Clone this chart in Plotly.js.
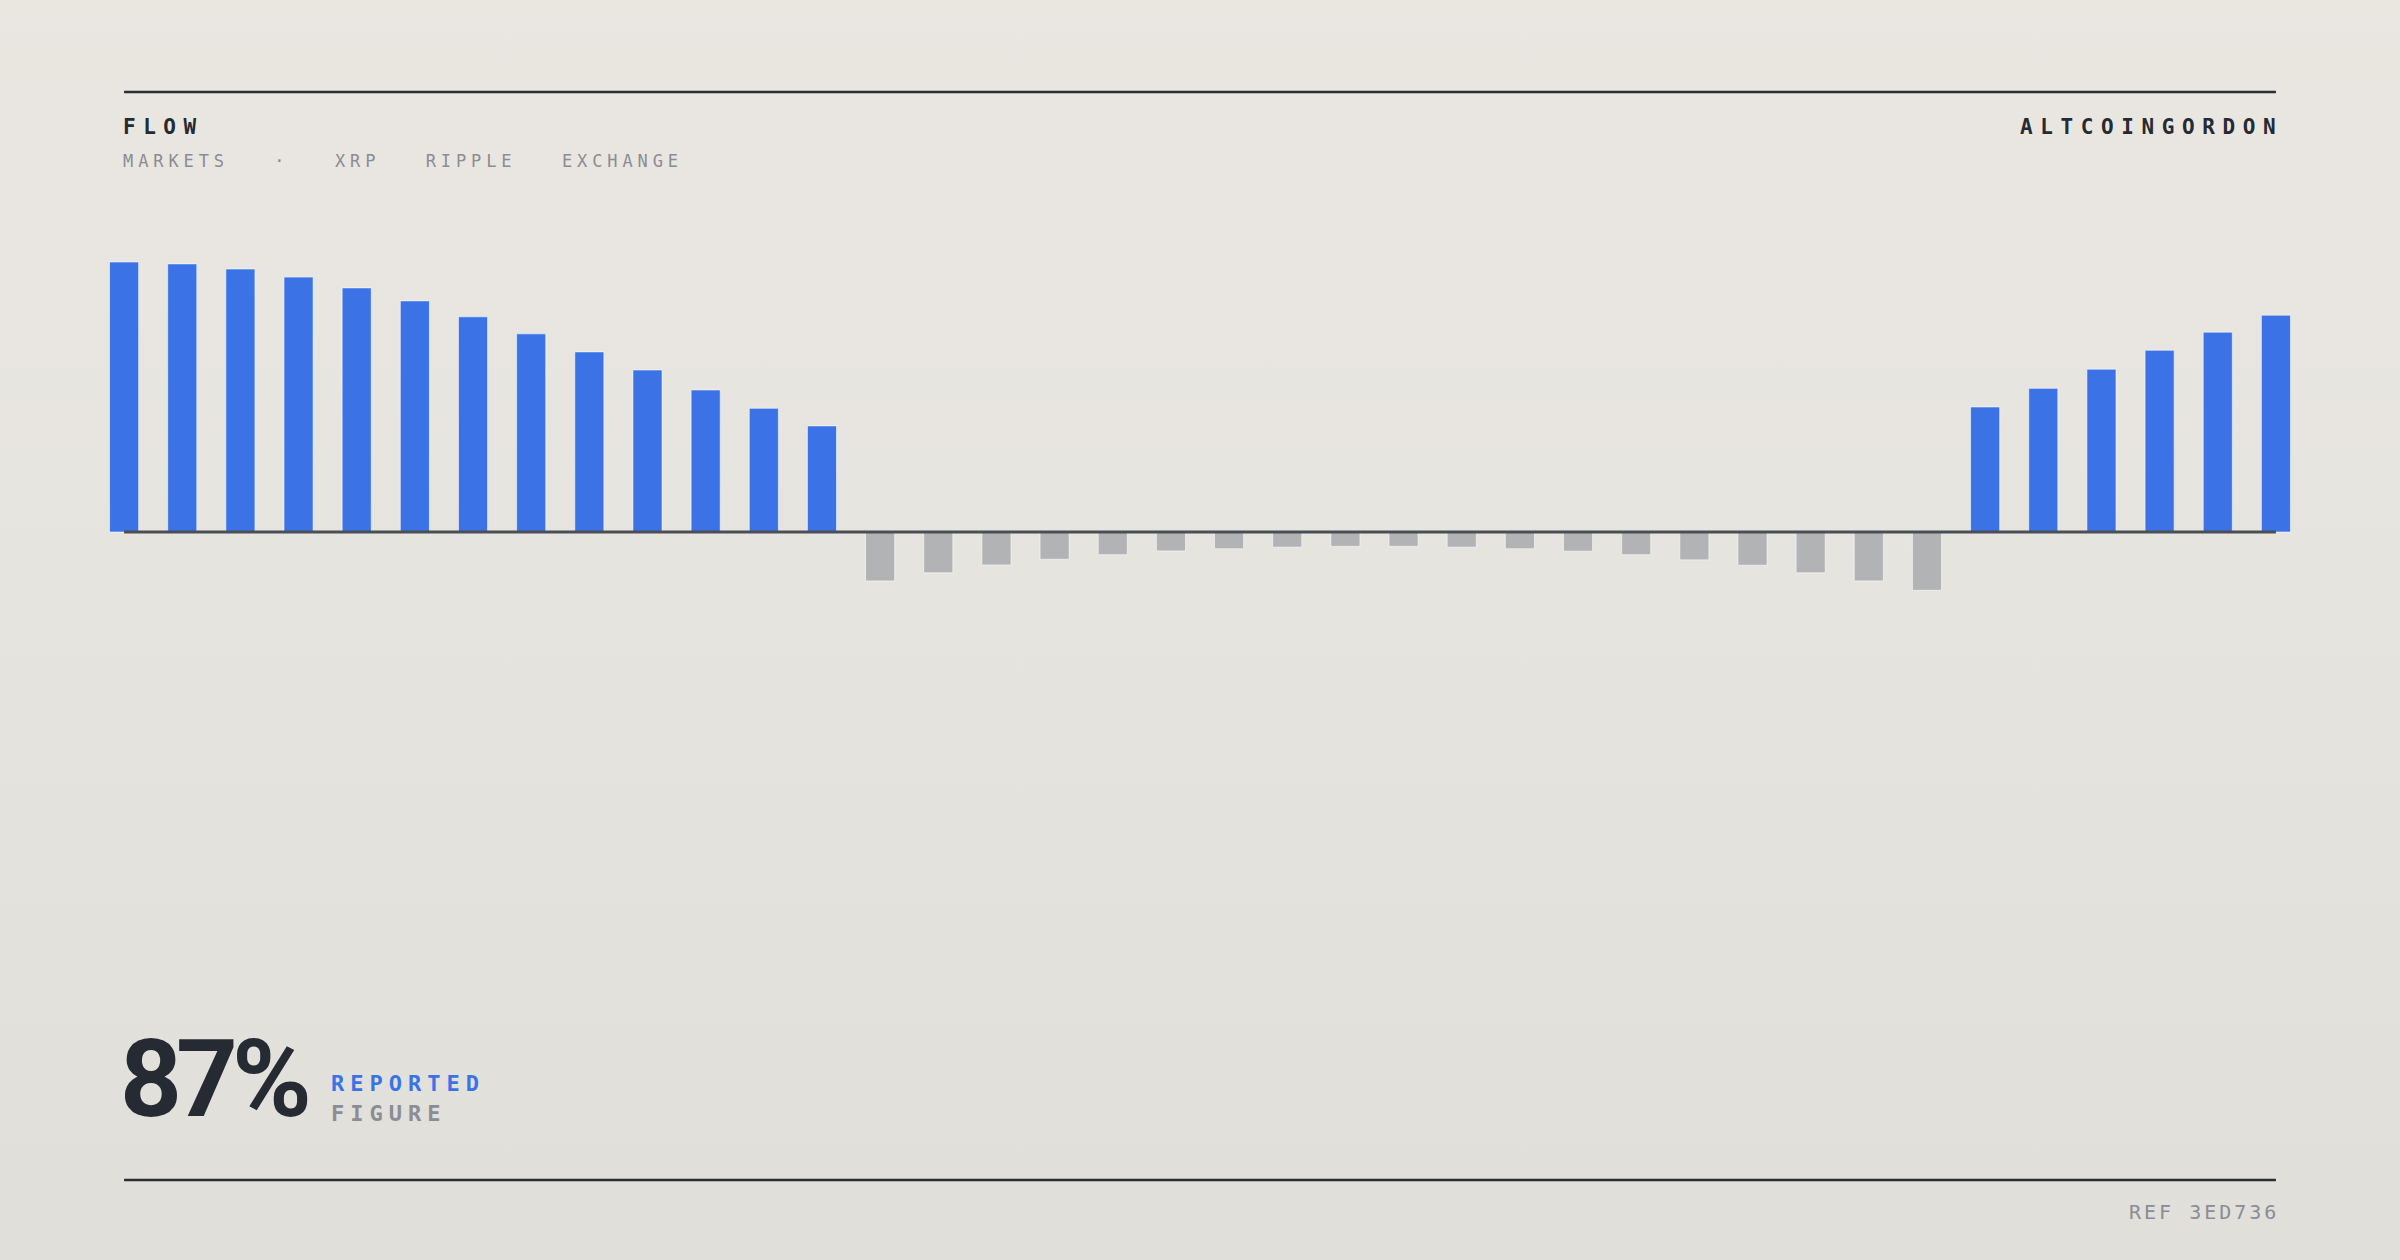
<!DOCTYPE html>
<html>
<head>
<meta charset="utf-8">
<script src="https://cdn.plot.ly/plotly-3.0.1.min.js"></script>
<style>
  html, body { margin: 0; padding: 0; }
  body {
    width: 2400px; height: 1260px; overflow: hidden;
    background: linear-gradient(180deg, #eae7e1 0%, #e6e4df 45%, #e0dfda 100%);
  }
  #chart { width: 2400px; height: 1260px; }
</style>
</head>
<body>
<div id="chart"></div>
<script>
// ---- data ----
const periods = [1,2,3,4,5,6,7,8,9,10,11,12,13,14,15,16,17,18,19,20,21,22,23,24,25,26,27,28,29,30,31,32,33,34,35,36,37,38];
const flowValues = [
  100, 99.3, 97.4, 94.4, 90.4, 85.6, 79.7, 73.4, 66.7, 60.0, 52.6, 45.8, 39.3,
  -18.1, -15.1, -12.2, -10.1, -8.4, -7.0, -6.2, -5.6, -5.3, -5.3, -5.6, -6.2, -7.1, -8.4, -10.3, -12.3, -15.1, -18.1, -21.6,
  46.3, 53.2, 60.3, 67.3, 74.0, 80.3
];
const headerTitle = "FLOW";
const headerTags = ["MARKETS", "·", "XRP", "RIPPLE", "EXCHANGE"];
const brandLabel = "ALTCOINGORDON";
const figureValue = "87%";
const figureLabels = ["REPORTED", "FIGURE"];
const refLabel = "REF 3ED736";

// ---- styling ----
const BLUE = "#3b73e6";
const GRAY_BAR = "#b2b3b5";
const INK = "#262a33";
const MUTED = "#8a8d94";
const MONO = "DejaVu Sans Mono, Liberation Mono, monospace";

const W = 2400, H = 1260;
const M = { l: 95, r: 95, t: 230, b: 610 };
const plotW = W - M.l - M.r, plotH = H - M.t - M.b;
const px2x = p => (p - M.l) / plotW;
const px2y = p => (H - M.b - p) / plotH;
const spaced = (t, ls) => `<span style="letter-spacing:${ls}px">${t}</span>`;

const barColors = flowValues.map(v => v >= 0 ? BLUE : GRAY_BAR);

const trace = {
  type: "bar",
  x: periods,
  y: flowValues,
  marker: { color: barColors, line: { color: "rgba(255,255,255,0.55)", width: 1 } },
  hoverinfo: "skip"
};

const sep = "\u00A0\u00A0\u00A0";
const tagText = headerTags.join(sep);

const annotations = [
  { text: spaced(headerTitle, 7.5), x: px2x(122), y: px2y(127), xanchor: "left", yanchor: "middle",
    font: { family: MONO, size: 21, color: INK, weight: 700 } },
  { text: spaced(tagText, 4.9), x: px2x(122), y: px2y(161), xanchor: "left", yanchor: "middle",
    font: { family: MONO, size: 17, color: MUTED } },
  { text: spaced(brandLabel, 7.6), x: px2x(2284), y: px2y(127), xanchor: "right", yanchor: "middle",
    font: { family: MONO, size: 21, color: INK, weight: 700 } },
  { text: spaced(figureValue, -6), x: px2x(119), y: px2y(1079), xanchor: "left", yanchor: "middle",
    font: { family: "Roboto", size: 108, color: INK, weight: 700 } },
  { text: spaced(figureLabels[0], 6), x: px2x(330), y: px2y(1083), xanchor: "left", yanchor: "middle",
    font: { family: MONO, size: 22, color: BLUE, weight: 700 } },
  { text: spaced(figureLabels[1], 6), x: px2x(330), y: px2y(1113), xanchor: "left", yanchor: "middle",
    font: { family: MONO, size: 22, color: MUTED, weight: 700 } },
  { text: spaced(refLabel, 3), x: px2x(2280), y: px2y(1212), xanchor: "right", yanchor: "middle",
    font: { family: MONO, size: 20, color: MUTED } }
].map(a => Object.assign({ xref: "paper", yref: "paper", showarrow: false, borderpad: 0 }, a));

const shapes = [
  { type: "line", xref: "x", yref: "paper", x0: 1, x1: 38, y0: px2y(92), y1: px2y(92),
    line: { color: "#2a2e36", width: 2.5 } },
  { type: "line", xref: "x", yref: "paper", x0: 1, x1: 38, y0: px2y(1180), y1: px2y(1180),
    line: { color: "#2a2e36", width: 2.5 } },
  { type: "line", xref: "x", yref: "y", x0: 1, x1: 38, y0: 0, y1: 0, layer: "above",
    line: { color: "#4b4e54", width: 3 } }
];

const layout = {
  width: W, height: H,
  margin: { l: M.l, r: M.r, t: M.t, b: M.b, pad: 0 },
  paper_bgcolor: "rgba(0,0,0,0)",
  plot_bgcolor: "rgba(0,0,0,0)",
  showlegend: false,
  bargap: 0.5,
  xaxis: { range: [0.5, 38.5], showgrid: false, zeroline: false, showticklabels: false, ticks: "", showline: false, fixedrange: true },
  yaxis: { range: [-43.70, 111.85], showgrid: false, zeroline: false, showticklabels: false, ticks: "", showline: false, fixedrange: true },
  annotations: annotations,
  shapes: shapes
};

Plotly.newPlot("chart", [trace], layout, { displayModeBar: false, staticPlot: true });
</script>
</body>
</html>
